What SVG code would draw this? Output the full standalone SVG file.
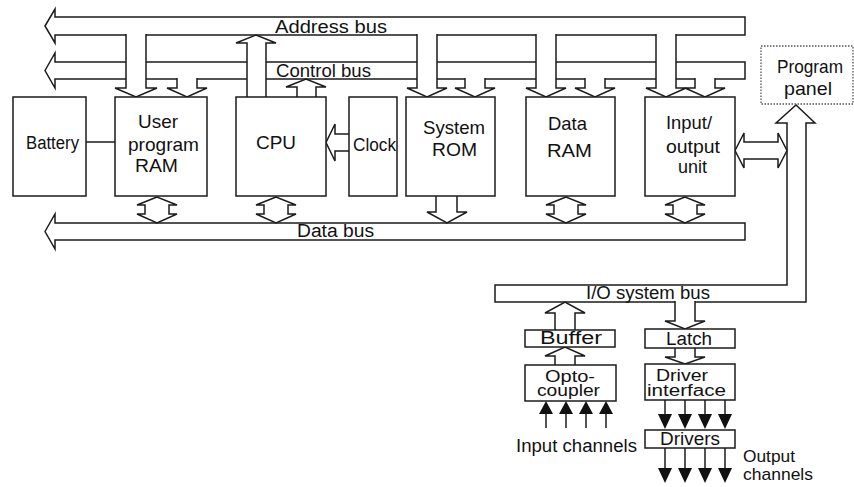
<svg xmlns="http://www.w3.org/2000/svg" width="854" height="487" viewBox="0 0 854 487">
  <style>
    .sh { fill: #ffffff; stroke: #1b1b1b; stroke-width: 1.5; stroke-linejoin: miter; }
    .box { fill: #ffffff; stroke: #1b1b1b; stroke-width: 1.5; }
    .dot { fill: #ffffff; stroke: #555555; stroke-width: 1.3; stroke-dasharray: 1.5 1.5; }
    .wire { fill: none; stroke: #1b1b1b; stroke-width: 1.5; }
    .solid { fill: #111111; stroke: none; }
    text { font-family: "Liberation Sans", Arial, sans-serif; font-size: 18px; fill: #111111; }
    .lg { font-size: 19px; }
    .sm { font-size: 17px; }
    .xs { font-size: 16px; }
  </style>

  <!-- system buses -->
  <g id="buses">
    <path id="address-bus" class="sh" d="M45,26 L55,9 V17 H745 V35 H55 V43 Z"/>
    <path id="control-bus" class="sh" d="M45,70.5 L55,53 V62 H745 V79 H55 V88 Z"/>
    <path id="data-bus" class="sh" d="M45,231.5 L55,214 V223 H745 V240 H55 V249 Z"/>
    <path id="io-system-bus" class="sh" d="M787,123 H776 L796,105 L815,123 H806 V302 H495 V285 H787 Z"/>
    <text x="275" y="33" textLength="112" lengthAdjust="spacingAndGlyphs">Address bus</text>
    <text x="276" y="77" textLength="95" lengthAdjust="spacingAndGlyphs">Control bus</text>
    <text x="297" y="237" textLength="77" lengthAdjust="spacingAndGlyphs">Data bus</text>
    <text x="586" y="299" textLength="124" lengthAdjust="spacingAndGlyphs">I/O system bus</text>
  </g>

  <!-- connectors -->
  <g id="connectors">
    <!-- address bus taps -->
    <path class="sh" d="M126,34 V88 H115 L136,97 L157,88 H146 V34"/>
    <path class="sh" d="M417,34 V88 H407 L427,97 L447,88 H437 V34"/>
    <path class="sh" d="M536,34 V88 H526 L546,97 L566,88 H556 V34"/>
    <path class="sh" d="M656,34 V88 H646 L666,97 L686,88 H676 V34"/>
    <!-- control bus taps -->
    <path class="sh" d="M177,78 V88 H167 L187,97 L207,88 H197 V78"/>
    <path class="sh" d="M465,78 V88 H455 L475,97 L495,88 H485 V78"/>
    <path class="sh" d="M585,78 V88 H575 L595,97 L615,88 H605 V78"/>
    <path class="sh" d="M695,78 V88 H685 L705,97 L725,88 H715 V78"/>
    <!-- CPU drives address and control buses -->
    <path class="sh" d="M247,97 V43 H236 L256,35 L276,43 H266 V97"/>
    <path class="sh" d="M297,97 V87 H286 L306,79 L326,87 H316 V97"/>
    <!-- clock to CPU -->
    <path class="sh" d="M349,134 H335 V124 L326,142.5 L335,161 V151 H349"/>
    <!-- data bus links -->
    <path class="sh" d="M157,197 L137,205 H145 V214 H137 L157,223 L177,214 H169 V205 H177 Z"/>
    <path class="sh" d="M276,197 L256,205 H264 V214 H256 L276,223 L296,214 H288 V205 H296 Z"/>
    <path class="sh" d="M436,196 V212 H427 L447,223 L467,212 H457 V196"/>
    <path class="sh" d="M566,197 L546,205 H554 V214 H546 L566,223 L586,214 H578 V205 H586 Z"/>
    <path class="sh" d="M685,197 L665,205 H673 V214 H665 L685,223 L705,214 H697 V205 H705 Z"/>
    <!-- I/O unit to system bus -->
    <path class="sh" d="M735,150.5 L744,133 V142 H778 V133 L787,150.5 L778,168 V159 H744 V168 Z"/>
    <!-- input path -->
    <path class="sh" d="M555,330 V313 H545 L565,302 L585,313 H575 V330"/>
    <path class="sh" d="M555,365 V356 H545 L565,347 L585,356 H575 V365"/>
    <!-- output path -->
    <path class="sh" d="M675,301 V321 H665 L685,329 L705,321 H695 V301"/>
    <path class="sh" d="M675,348 V357 H665 L685,364 L705,357 H695 V348"/>
    <!-- battery backup line -->
    <line class="wire" x1="86" y1="142" x2="115" y2="142"/>
    <!-- input channels -->
    <g>
      <line class="wire" x1="546" y1="413" x2="546" y2="428"/>
      <line class="wire" x1="566" y1="413" x2="566" y2="428"/>
      <line class="wire" x1="586" y1="413" x2="586" y2="428"/>
      <line class="wire" x1="606" y1="413" x2="606" y2="428"/>
      <polygon class="solid" points="546,401 539,414 553,414"/>
      <polygon class="solid" points="566,401 559,414 573,414"/>
      <polygon class="solid" points="586,401 579,414 593,414"/>
      <polygon class="solid" points="606,401 599,414 613,414"/>
    </g>
    <!-- driver interface to drivers -->
    <g>
      <line class="wire" x1="665" y1="400" x2="665" y2="415"/>
      <line class="wire" x1="685" y1="400" x2="685" y2="415"/>
      <line class="wire" x1="705" y1="400" x2="705" y2="415"/>
      <line class="wire" x1="725" y1="400" x2="725" y2="415"/>
      <polygon class="solid" points="658,414 672,414 665,429"/>
      <polygon class="solid" points="678,414 692,414 685,429"/>
      <polygon class="solid" points="698,414 712,414 705,429"/>
      <polygon class="solid" points="718,414 732,414 725,429"/>
    </g>
    <!-- output channels -->
    <g>
      <line class="wire" x1="665" y1="448" x2="665" y2="469"/>
      <line class="wire" x1="685" y1="448" x2="685" y2="469"/>
      <line class="wire" x1="705" y1="448" x2="705" y2="469"/>
      <line class="wire" x1="725" y1="448" x2="725" y2="469"/>
      <polygon class="solid" points="658,468 672,468 665,483"/>
      <polygon class="solid" points="678,468 692,468 685,483"/>
      <polygon class="solid" points="698,468 712,468 705,483"/>
      <polygon class="solid" points="718,468 732,468 725,483"/>
    </g>
  </g>

  <!-- units -->
  <g id="battery">
    <rect class="box" x="13" y="97" width="73" height="99"/>
    <text x="26" y="149" textLength="53" lengthAdjust="spacingAndGlyphs">Battery</text>
  </g>
  <g id="user-program-ram">
    <rect class="box" x="115" y="97" width="92" height="99"/>
    <text class="lg" x="138" y="128" textLength="40" lengthAdjust="spacingAndGlyphs">User</text>
    <text class="lg" x="128" y="151" textLength="71" lengthAdjust="spacingAndGlyphs">program</text>
    <text class="lg" x="135" y="172" textLength="43" lengthAdjust="spacingAndGlyphs">RAM</text>
  </g>
  <g id="cpu">
    <rect class="box" x="236" y="97" width="90" height="99"/>
    <text class="lg" x="256" y="149" textLength="40" lengthAdjust="spacingAndGlyphs">CPU</text>
  </g>
  <g id="clock">
    <rect class="box" x="349" y="97" width="48" height="99"/>
    <text x="353" y="151" textLength="43" lengthAdjust="spacingAndGlyphs">Clock</text>
  </g>
  <g id="system-rom">
    <rect class="box" x="406" y="97" width="89" height="99"/>
    <text class="lg" x="423" y="134" textLength="62" lengthAdjust="spacingAndGlyphs">System</text>
    <text class="lg" x="432" y="156" textLength="45" lengthAdjust="spacingAndGlyphs">ROM</text>
  </g>
  <g id="data-ram">
    <rect class="box" x="526" y="97" width="89" height="99"/>
    <text class="lg" x="548" y="130" textLength="39" lengthAdjust="spacingAndGlyphs">Data</text>
    <text class="lg" x="547" y="157" textLength="45" lengthAdjust="spacingAndGlyphs">RAM</text>
  </g>
  <g id="io-unit">
    <rect class="box" x="645" y="97" width="90" height="99"/>
    <text class="lg" x="666" y="129" textLength="46" lengthAdjust="spacingAndGlyphs">Input/</text>
    <text class="lg" x="666" y="153" textLength="54" lengthAdjust="spacingAndGlyphs">output</text>
    <text class="lg" x="678" y="173" textLength="29" lengthAdjust="spacingAndGlyphs">unit</text>
  </g>
  <g id="program-panel">
    <rect class="dot" x="761" y="46" width="92" height="58"/>
    <text class="lg" x="777" y="73" textLength="66" lengthAdjust="spacingAndGlyphs">Program</text>
    <text class="lg" x="784" y="95" textLength="48" lengthAdjust="spacingAndGlyphs">panel</text>
  </g>
  <g id="buffer">
    <rect class="box" x="525" y="330" width="90" height="17"/>
    <text x="540" y="344" textLength="62" lengthAdjust="spacingAndGlyphs">Buffer</text>
  </g>
  <g id="opto-coupler">
    <rect class="box" x="525" y="365" width="91" height="36"/>
    <text class="xs" x="545" y="382" textLength="50" lengthAdjust="spacingAndGlyphs">Opto-</text>
    <text class="xs" x="537" y="396" textLength="63" lengthAdjust="spacingAndGlyphs">coupler</text>
  </g>
  <g id="latch">
    <rect class="box" x="645" y="329" width="90" height="19"/>
    <text x="666" y="345" textLength="46" lengthAdjust="spacingAndGlyphs">Latch</text>
  </g>
  <g id="driver-interface">
    <rect class="box" x="645" y="364" width="90" height="36"/>
    <text class="xs" x="656" y="381" textLength="52" lengthAdjust="spacingAndGlyphs">Driver</text>
    <text class="xs" x="647" y="396" textLength="79" lengthAdjust="spacingAndGlyphs">interface</text>
  </g>
  <g id="drivers">
    <rect class="box" x="645" y="430" width="90" height="18"/>
    <text x="660" y="445" textLength="60" lengthAdjust="spacingAndGlyphs">Drivers</text>
  </g>
  <g id="channel-labels">
    <text x="516" y="452" textLength="121" lengthAdjust="spacingAndGlyphs">Input channels</text>
    <text class="sm" x="743" y="462" textLength="52" lengthAdjust="spacingAndGlyphs">Output</text>
    <text class="sm" x="743" y="480" textLength="70" lengthAdjust="spacingAndGlyphs">channels</text>
  </g>
</svg>
